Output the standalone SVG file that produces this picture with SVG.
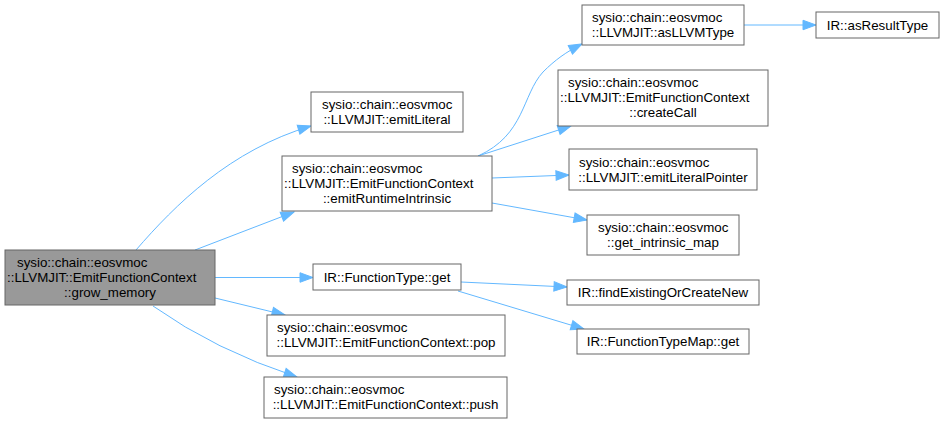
<svg xmlns="http://www.w3.org/2000/svg" width="945" height="426" viewBox="0 0 945 426">
<style>
.n rect{fill:#ffffff;stroke:#666666;stroke-width:1}
#n0 rect{fill:#999999}
text{font-family:"Liberation Sans",Arial,Helvetica,sans-serif;font-size:13.33px;fill:#000000}
.m{text-anchor:middle}
.e path{fill:none;stroke:#63b8ff;stroke-width:1}
</style>
<defs>
<marker id="a" markerUnits="userSpaceOnUse" markerWidth="16" markerHeight="12" refX="13.5" refY="5.25" orient="auto" overflow="visible">
<path d="M0.5,0.5 L13.5,5.25 L0.5,10 z" fill="#63b8ff" stroke="#63b8ff" stroke-width="1"/>
</marker>
</defs>
<rect width="945" height="426" fill="#ffffff"/>
<g id="edges" class="e">
<path d="M136,250 C175,205 230,150 311,126" marker-end="url(#a)"/>
<path d="M195,250 L294,212" marker-end="url(#a)"/>
<path d="M215,277.5 L313,277.5" marker-end="url(#a)"/>
<path d="M215,298 L285,315" marker-end="url(#a)"/>
<path d="M153,306 Q215,350 297,377" marker-end="url(#a)"/>
<path d="M478,156 C525,135 522,95 543,72 C555,60 566,52 582,44" marker-end="url(#a)"/>
<path d="M478,156 L571,126" marker-end="url(#a)"/>
<path d="M492,178 L569,175" marker-end="url(#a)"/>
<path d="M492,203 L587,220" marker-end="url(#a)"/>
<path d="M744,25 L816,25" marker-end="url(#a)"/>
<path d="M461,282 L567,287" marker-end="url(#a)"/>
<path d="M458,291 L584,329" marker-end="url(#a)"/>
</g>
<g id="n0" class="n">
<rect x="5" y="250" width="210" height="55"/>
<text x="17" y="267">sysio::chain::eosvmoc</text>
<text x="7" y="282">::LLVMJIT::EmitFunctionContext</text>
<text x="110" y="297" class="m">::grow_memory</text>
</g>
<g id="n1" class="n">
<rect x="311" y="92" width="152" height="40"/>
<text x="322" y="109">sysio::chain::eosvmoc</text>
<text x="387" y="124" class="m">::LLVMJIT::emitLiteral</text>
</g>
<g id="n2" class="n">
<rect x="282" y="156" width="210" height="55"/>
<text x="292" y="173">sysio::chain::eosvmoc</text>
<text x="284" y="188">::LLVMJIT::EmitFunctionContext</text>
<text x="387" y="203" class="m">::emitRuntimeIntrinsic</text>
</g>
<g id="n3" class="n">
<rect x="582" y="5" width="162" height="40"/>
<text x="592" y="22">sysio::chain::eosvmoc</text>
<text x="663" y="37" class="m">::LLVMJIT::asLLVMType</text>
</g>
<g id="n4" class="n">
<rect x="816" y="12" width="123" height="26"/>
<text x="877.5" y="29.5" class="m">IR::asResultType</text>
</g>
<g id="n5" class="n">
<rect x="558" y="70" width="210" height="56"/>
<text x="568" y="87">sysio::chain::eosvmoc</text>
<text x="560" y="102">::LLVMJIT::EmitFunctionContext</text>
<text x="663" y="117" class="m">::createCall</text>
</g>
<g id="n6" class="n">
<rect x="569" y="149" width="188" height="41"/>
<text x="579" y="166.5">sysio::chain::eosvmoc</text>
<text x="663" y="181.5" class="m">::LLVMJIT::emitLiteralPointer</text>
</g>
<g id="n7" class="n">
<rect x="587" y="215" width="152" height="40"/>
<text x="598" y="232">sysio::chain::eosvmoc</text>
<text x="663" y="247" class="m">::get_intrinsic_map</text>
</g>
<g id="n8" class="n">
<rect x="313" y="264" width="148" height="26"/>
<text x="387" y="281.5" class="m">IR::FunctionType::get</text>
</g>
<g id="n9" class="n">
<rect x="567" y="280" width="192" height="25"/>
<text x="663" y="297" class="m">IR::findExistingOrCreateNew</text>
</g>
<g id="n10" class="n">
<rect x="577" y="329" width="172" height="25"/>
<text x="663" y="346" class="m">IR::FunctionTypeMap::get</text>
</g>
<g id="n11" class="n">
<rect x="267" y="315" width="238" height="41"/>
<text x="277" y="332">sysio::chain::eosvmoc</text>
<text x="386" y="347" class="m">::LLVMJIT::EmitFunctionContext::pop</text>
</g>
<g id="n12" class="n">
<rect x="264" y="377" width="243" height="41"/>
<text x="274" y="394">sysio::chain::eosvmoc</text>
<text x="385.5" y="409" class="m">::LLVMJIT::EmitFunctionContext::push</text>
</g>
</svg>
